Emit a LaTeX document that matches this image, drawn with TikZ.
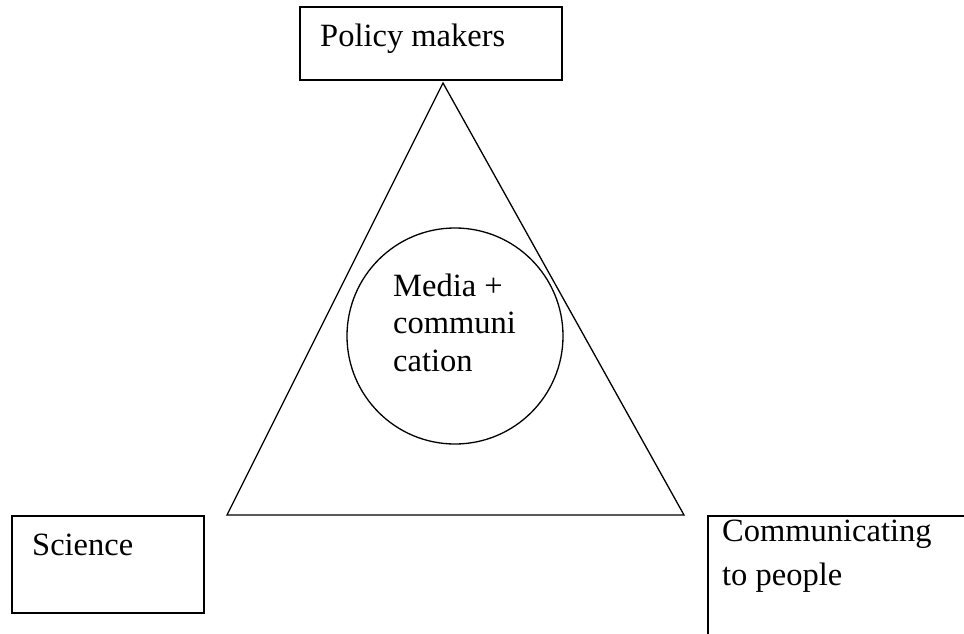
\documentclass[tikz,border=0pt]{standalone}
\usepackage{fontspec}
\setmainfont{Liberation Serif}
\begin{document}
\begin{tikzpicture}[x=1pt,y=-1pt,
  boxshape/.style={draw, line width=1.8pt, rectangle, inner sep=0pt, anchor=north west},
  shapeline/.style={line width=1.3pt},
  lbl/.style={inner sep=0pt, anchor=base west, align=left, font=\fontsize{32.5}{37.4}\selectfont}]
\useasboundingbox (0,0) rectangle (964,634);
\clip (0,0) rectangle (964,634);
% boxes
\node[boxshape, minimum width=262pt, minimum height=73pt] (pm) at (299,6) {};
\node[boxshape, minimum width=192pt, minimum height=97pt] (sci) at (11,515) {};
\node[boxshape, minimum width=300pt, minimum height=160pt] (com) at (707,515) {};
% triangle
\coordinate (apex) at (443,83);
\coordinate (bl) at (227,515);
\coordinate (br) at (684,515);
\draw[shapeline, line join=miter] (apex) -- (bl) -- (br) -- cycle;
% circle
\node[draw, shapeline, circle, minimum size=216pt, inner sep=0pt] (media) at (455,336) {};
% labels (base = baseline of the last line)
\node[lbl] (pmt) at (320,47) {Policy makers};
\node[lbl] (scit) at (32,555) {Science};
\node[lbl, font=\fontsize{32.5}{44}\selectfont] (comt) at (722,585) {Communicating\\to people};
\node[lbl] (mediat) at (393,371) {Media +\\communi\\cation};
\end{tikzpicture}
\end{document}
